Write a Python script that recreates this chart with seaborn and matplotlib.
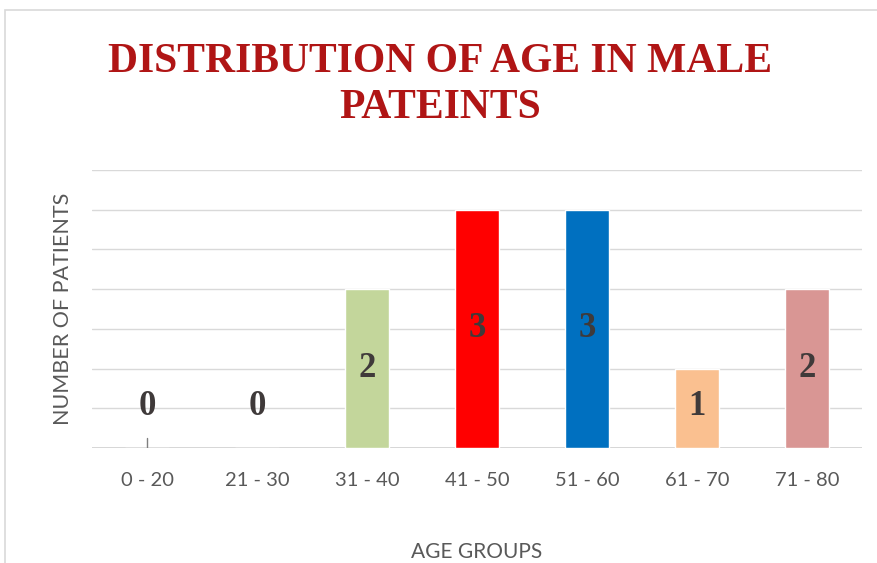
import pandas as pd
import matplotlib
matplotlib.use('Agg')
import matplotlib.pyplot as plt
import seaborn as sns
from matplotlib.patches import Rectangle

age_groups = ['0 - 20', '21 - 30', '31 - 40', '41 - 50', '51 - 60', '61 - 70', '71 - 80']
patients = [0, 0, 2, 3, 3, 1, 2]
bar_colors = ['#7f7f7f', '#7f7f7f', '#c3d69b', '#ff0000', '#0070c0', '#fac090', '#d99694']

df = pd.DataFrame({'age': age_groups, 'n': patients})

sns.set_style('white')
plt.rcParams['font.family'] = ['Lato', 'DejaVu Sans']

fig = plt.figure(figsize=(8.77, 5.63), dpi=100)
ax = fig.add_axes([0.105, 0.204, 0.878, 0.494])

# light chart border (top + left)
fig.patches.append(Rectangle((0.006, -0.1), 1.2, 1.082, transform=fig.transFigure,
                             fill=False, edgecolor='#d9d9d9', lw=1.2))

for yv in [0.5, 1, 1.5, 2, 2.5, 3, 3.5]:
    ax.axhline(yv, color='#d9d9d9', lw=1, zorder=0)
ax.axhline(0, color='#d0d0d0', lw=1.2, zorder=0)

sns.barplot(data=df, x='age', y='n', hue='age', palette=bar_colors, saturation=1,
            dodge=False, legend=False, width=0.4, ax=ax, zorder=2)

# tiny stub drawn at the first (empty) category
ax.plot([0, 0], [0, 0.13], color='#7f7f7f', lw=1, zorder=3)

for i, v in enumerate(patients):
    ax.text(i, max(v / 2, 0.52), str(v), ha='center', va='center',
            fontsize=25, fontweight='bold', color='#3f3a3a',
            family=['Liberation Serif', 'DejaVu Serif'], zorder=4)

ax.set_ylim(0, 3.5)
ax.set_xlim(-0.5, 6.5)
ax.set_yticks([])
ax.tick_params(axis='x', length=0, pad=17, labelsize=14.5, labelcolor='#595959')
for s in ax.spines.values():
    s.set_visible(False)
ax.set_xlabel('AGE GROUPS', fontsize=15, color='#595959', labelpad=38)
ax.set_ylabel('NUMBER OF PATIENTS', fontsize=15.5, color='#595959', labelpad=14)

fig.text(0.502, 0.849, 'DISTRIBUTION OF AGE IN MALE\nPATEINTS', ha='center', va='center',
         fontsize=30, fontweight='bold', color='#b01515', linespacing=1.3,
         family=['Liberation Serif', 'DejaVu Serif'])

fig.savefig('out.png', dpi=100)
